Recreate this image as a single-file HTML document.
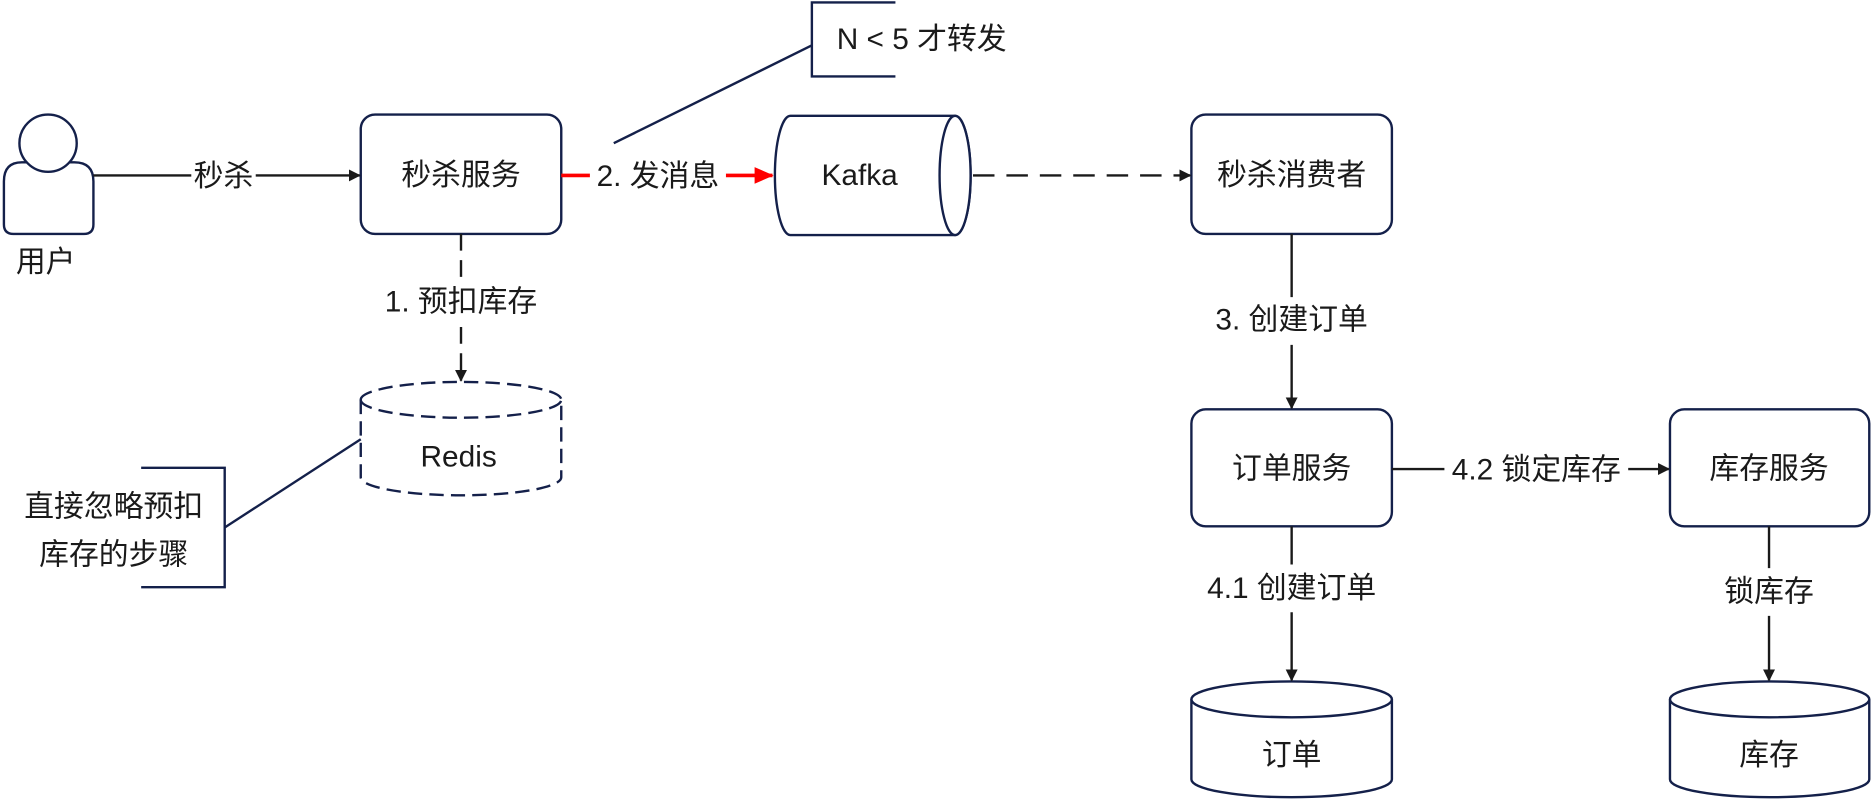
<!DOCTYPE html>
<html><head><meta charset="utf-8"><style>
html,body{margin:0;padding:0;background:#fff}
svg text{font-family:"Liberation Sans","Noto Sans CJK SC",sans-serif;font-size:25px;fill:#1a1a1a}
</style></head><body>
<svg width="1872" height="802" viewBox="0 0 1568 672" xmlns="http://www.w3.org/2000/svg">
<defs>
<marker id="a" markerWidth="10" markerHeight="10" refX="9" refY="5" orient="auto" markerUnits="userSpaceOnUse"><path d="M0,0 L10,5 L0,10 Z" fill="#1a1a1a"/></marker>
<marker id="r" markerWidth="16" markerHeight="14" refX="15" refY="7" orient="auto" markerUnits="userSpaceOnUse"><path d="M0,0 L16,7 L0,14 Z" fill="#f00"/></marker>
</defs>
<g fill="#fff" stroke="#14204a" stroke-width="2">
<path d="M18,136 L62,136 Q78,136 78,152 L78,188 Q78,196 70,196 L11,196 Q3,196 3,188 L3,152 Q3,136 18,136 Z"/>
<circle cx="40" cy="120" r="24"/>
<rect x="302" y="96" width="168" height="100" rx="12"/>
<rect x="998" y="96" width="168" height="100" rx="12"/>
<rect x="998" y="343" width="168" height="98" rx="12"/>
<rect x="1399" y="343" width="167" height="98" rx="12"/>
<path d="M662,97 L800,97 A13,50 0 0 1 800,197 L662,197 A13,50 0 0 1 662,97 Z"/>
<ellipse cx="800" cy="147" rx="13" ry="50"/>
<path d="M302,335 A84,15 0 0 1 470,335 L470,400 A84,15 0 0 1 302,400 Z" stroke-dasharray="12 6"/>
<path d="M302,335 A84,15 0 0 0 470,335" fill="none" stroke-dasharray="12 6"/>
<path d="M998,586 A84,15 0 0 1 1166,586 L1166,653 A84,15 0 0 1 998,653 Z"/>
<path d="M998,586 A84,15 0 0 0 1166,586" fill="none"/>
<path d="M1399,586 A83.5,15 0 0 1 1566,586 L1566,653 A83.5,15 0 0 1 1399,653 Z"/>
<path d="M1399,586 A83.5,15 0 0 0 1566,586" fill="none"/>
<path d="M750,2 L680,2 L680,64 L750,64" fill="none"/>
<path d="M680,38 L514,120" fill="none"/>
<path d="M118,392 L188,392 L188,492 L118,492" fill="none"/>
<path d="M188,442 L302,368" fill="none"/>
</g>
<g stroke="#1a1a1a" stroke-width="2" fill="none">
<path d="M78,147 L160,147 M214,147 L301,147" marker-end="url(#a)"/>
<path d="M815,147 L997,147" stroke-dasharray="18 10" marker-end="url(#a)"/>
<path d="M386,196 L386,234 M386,274 L386,319" stroke-dasharray="14 8" marker-end="url(#a)"/>
<path d="M1082,196 L1082,249 M1082,289 L1082,342" marker-end="url(#a)"/>
<path d="M1166,393 L1210,393 M1364,393 L1398,393" marker-end="url(#a)"/>
<path d="M1082,441 L1082,473 M1082,513 L1082,570" marker-end="url(#a)"/>
<path d="M1482,441 L1482,476 M1482,516 L1482,570" marker-end="url(#a)"/>
<path d="M470,147 L494,147 M608,147 L647,147" stroke="#f00" stroke-width="3" marker-end="url(#r)"/>
</g>
<g text-anchor="middle" dominant-baseline="central">
<text x="38" y="220">用户</text>
<text x="187" y="148">秒杀</text>
<text x="386" y="147">秒杀服务</text>
<text x="551" y="148">2. 发消息</text>
<text x="720" y="147">Kafka</text>
<text x="1082" y="147">秒杀消费者</text>
<text x="772" y="33">N &lt; 5 才转发</text>
<text x="386" y="253">1. 预扣库存</text>
<text x="384" y="383">Redis</text>
<text x="95" y="425">直接忽略预扣</text>
<text x="95" y="465">库存的步骤</text>
<text x="1082" y="268">3. 创建订单</text>
<text x="1082" y="393">订单服务</text>
<text x="1287" y="394">4.2 锁定库存</text>
<text x="1482" y="393">库存服务</text>
<text x="1082" y="493">4.1 创建订单</text>
<text x="1482" y="496">锁库存</text>
<text x="1082" y="633">订单</text>
<text x="1482" y="633">库存</text>
</g>
</svg>
</body></html>
